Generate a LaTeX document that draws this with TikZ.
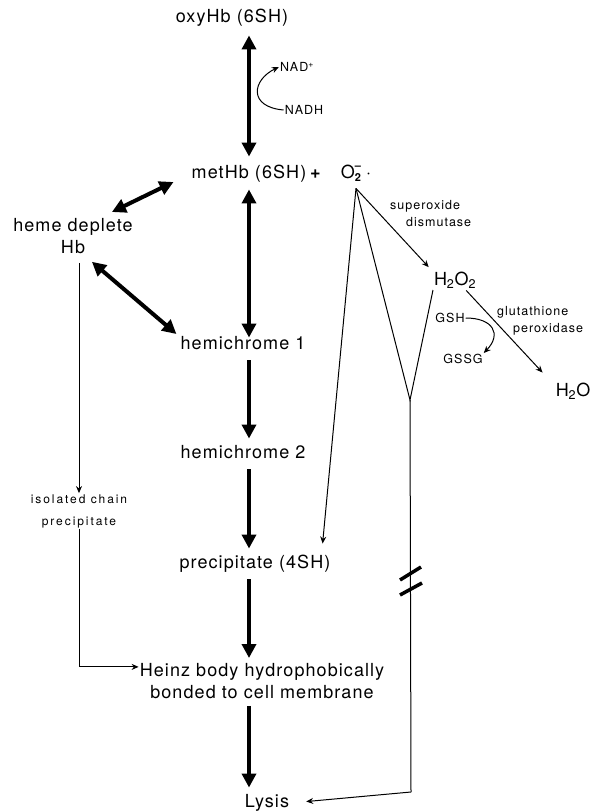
\documentclass[tikz,border=0pt]{standalone}
\usepackage{fontspec}
\setmainfont{TeX Gyre Heros}
\newfontfamily\lblfont[LetterSpace=6]{TeX Gyre Heros}
\newfontfamily\smlfont[LetterSpace=8]{TeX Gyre Heros}
\newfontfamily\isofont[LetterSpace=16]{TeX Gyre Heros}
\usetikzlibrary{positioning,arrows.meta}

\begin{document}
\begin{tikzpicture}[x=1pt, y=-1pt,
  lbl/.style={font=\lblfont\fontsize{18}{22}\selectfont, inner sep=1pt, align=center},
  one/.style={lbl, text height=12.5pt, text depth=4pt},
  sml/.style={font=\smlfont\fontsize{12.5}{17}\selectfont, inner sep=1pt, align=center},
  iso/.style={font=\isofont\fontsize{12}{22}\selectfont, inner sep=1pt, align=center},
  big/.style={line width=4pt, -{Triangle[length=14pt,width=14pt]}, shorten <=6pt, shorten >=6pt},
  bigboth/.style={line width=4pt, {Triangle[length=14pt,width=14pt]}-{Triangle[length=14pt,width=14pt]}},
  thin/.style={line width=1pt, -{Stealth[length=7pt,width=6pt]}},
  plain/.style={line width=1pt}]
\useasboundingbox (0,0) rectangle (590,811);

% main column
\coordinate (col) at (249,0);
\node[one] (oxy) at (232,18) {oxyHb (6SH)};
\node[one] (met) at (249,174) {metHb (6SH)};
\node[one] (plus) at (316,174) {\textbf{+}};
\node[one] (o2) at (356,174) {O\makebox[0pt][l]{\raisebox{-0.35ex}{\fontsize{11}{11}\selectfont\bfseries 2}}\makebox[0pt][l]{\raisebox{0.95ex}{\fontsize{11}{11}\selectfont\bfseries\textendash}}\hspace{0.62em}\textperiodcentered};
\node[lbl, anchor=north] (heme) at (73,217) {heme deplete\\Hb};
\node[one] (hc1) at (243,345) {hemichrome 1};
\node[one] (hc2) at (243,454) {hemichrome 2};
\node[one] (prec) at (255,564) {precipitate (4SH)};
\node[lbl, anchor=north] (heinz) at (262,662) {Heinz body hydrophobically\\bonded to cell membrane};
\node[one] (lysis) at (267,803) {Lysis};
\node[iso] (iso) at (79,511) {isolated chain\\precipitate};

% NADH / NAD+
\node[sml] (nadp) at (297,67) {NAD\textsuperscript{+}};
\node[sml] (nadh) at (304,110) {NADH};

% superoxide branch
\node[sml, align=left, anchor=north west] (sod) at (389,199) {superoxide\\\hspace*{16pt}dismutase};
\node[one] (h2o2) at (455,281) {H\textsubscript{2}O\textsubscript{2}};
\node[one] (h2o) at (573,392) {H\textsubscript{2}O};
\node[sml] (gsh) at (450,318) {GSH};
\node[sml] (gssg) at (463,359) {GSSG};
\node[sml, align=left, anchor=north west] (gpx) at (496,305) {glutathione\\\hspace*{16pt}peroxidase};
\coordinate (apex) at ([yshift=-5pt]o2.south);
\coordinate (vb) at (410,400);
\coordinate (arm) at (433,290);
\coordinate (bend) at (411,792);

% thick arrows
\draw[bigboth, shorten <=8pt, shorten >=8pt] (oxy.south -| col) -- (met.north -| col);
\draw[bigboth, shorten <=6pt, shorten >=-2pt] (met.south -| col) -- (hc1.north -| col);
\draw[big] (hc1.south -| col) -- (hc2.north -| col);
\draw[big] (hc2.south -| col) -- (prec.north -| col);
\draw[big, shorten >=4pt] (prec.south -| col) -- (heinz.north -| col);
\draw[big] (heinz.south -| col) -- (lysis.north -| col);
\draw[bigboth] ([shift={(-17,8)}]met.west) -- ([shift={(-22,-5)}]heme.north east);
\draw[bigboth] ([shift={(-42,7)}]heme.south east) -- ([shift={(-3,-11)}]hc1.west);

% thin connectors
\draw[thin] (nadh.west) .. controls (248,107) and (252,80) .. (nadp.west);
\draw[thin, shorten <=8pt] (heme.south -| iso) -- (iso.north);
\draw[thin] (iso.south) |- ([yshift=14pt]heinz.west);
\draw[thin] (apex) -- ([shift={(-9,-11)}]prec.north east);
\draw[thin, shorten >=6pt] (apex) -- (h2o2.north west);
\draw[plain] (apex) -- (vb) -- (arm);
\draw[plain] (vb) -- (bend);
\draw[thin, shorten >=16pt] (bend) -- (lysis.east);
\draw[thin] ([xshift=-11pt]h2o2.south east) -- ([shift={(-12,-10)}]h2o.north west);
\draw[thin] (gsh.east) .. controls (493,318) and (502,334) .. (gssg.north east);

% break marks
\draw[line width=3.5pt] (400,580) -- (421,567);
\draw[line width=3.5pt] (400,595) -- (422,583);
\end{tikzpicture}
\end{document}
